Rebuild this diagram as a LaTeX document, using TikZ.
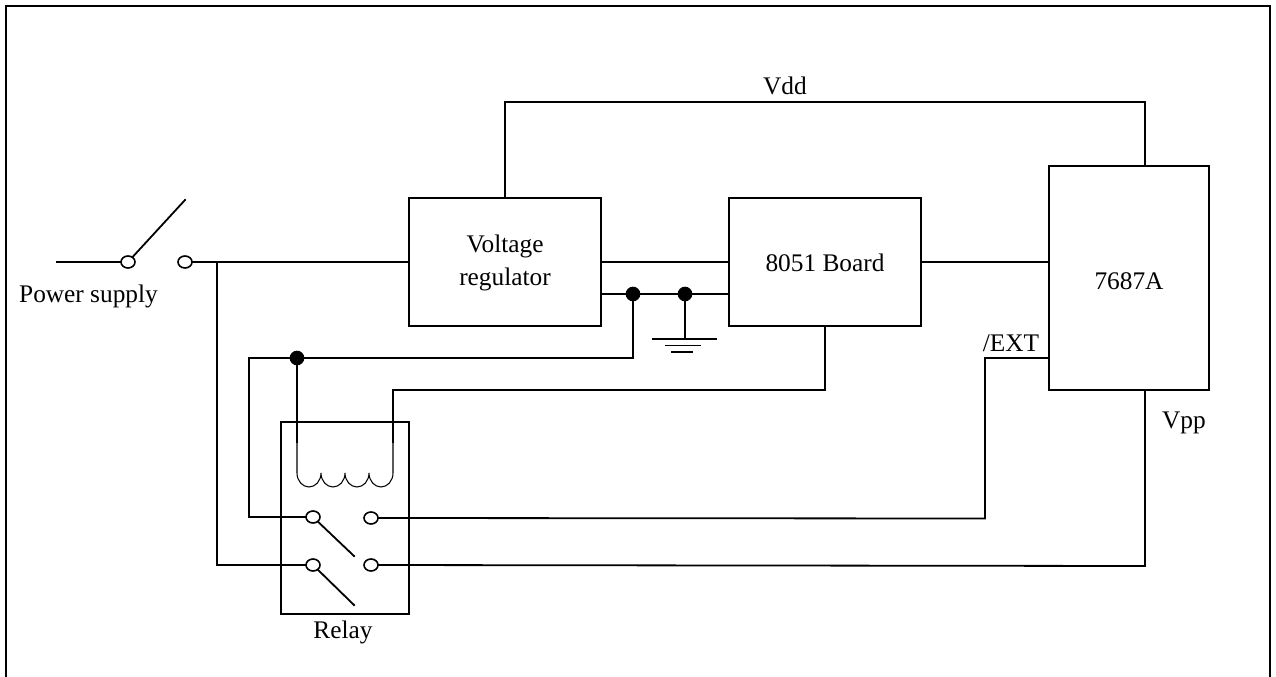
\documentclass[tikz,border=0pt]{standalone}
\usepackage{fontspec}
\usetikzlibrary{shapes.geometric}
\setmainfont{Liberation Serif}
\tikzset{
  x=0.75pt,y=-0.75pt,
  wire/.style={line width=1.35pt,line cap=rect},
  coilwire/.style={line width=0.8pt},
  blockbox/.style={draw,line width=1.35pt,minimum width=#1*0.75pt,inner sep=0pt},
  term/.style={ellipse,draw,line width=1.2pt,fill=white,inner sep=0pt,minimum width=10.5pt,minimum height=9pt},
  dotn/.style={circle,fill=black,inner sep=0pt,minimum size=11pt},
  lab/.style={inner sep=0pt,font=\fontsize{19}{22}\selectfont}
}
\begin{document}
\begin{tikzpicture}
\useasboundingbox (0,0) rectangle (1276,677);
\draw[line width=1.35pt] (6,677) -- (6,6) -- (1270,6) -- (1270,677);
% blocks
\node[blockbox=192,minimum height=96pt] (vr) at (505,262) {};
\node[blockbox=192,minimum height=96pt] (mcu) at (825,262) {};
\node[blockbox=160,minimum height=168pt] (chip) at (1129,278) {};
\node[blockbox=128,minimum height=144pt] (relay) at (345,518) {};
% free ends
\coordinate (pwr) at (57,262);
\coordinate (swtip) at (185,200);
\coordinate (vrtop) at (505,198);
\coordinate (chiptop) at (1145,166);
\coordinate (chipbot) at (1145,390);
\coordinate (gndtop) at (685,338);
\coordinate (ext) at (1049,358);
% terminals
\node[term] (sa) at (128,262) {};
\node[term] (sb) at (185,262) {};
\node[term] (ra) at (313,517) {};
\node[term] (rb) at (371,518) {};
\node[term] (rc) at (313,565) {};
\node[term] (rd) at (371,565) {};
\node[dotn] (d1) at (633,294) {};
\node[dotn] (d2) at (685,294) {};
\node[dotn] (d3) at (297,358) {};
% power switch
\draw[wire] (pwr) -- (sa);
\draw[wire] (sa) -- (swtip);
\draw[wire] (sb) -- (vr.west);
% Vdd
\draw[wire] (vrtop) -- (505,102) -- (1145,102) -- (chiptop);
% links between blocks
\draw[wire] (vr.east) -- (mcu.west);
\draw[wire] (601,294) -- (d1) -- (d2) -- (729,294);
\draw[wire] (mcu.east) -- (1049,262);
% ground
\draw[wire] (d2) -- (gndtop);
\draw[line width=1.5pt] (652,339) -- (717,339);
\draw[line width=1.2pt] (665,345.5) -- (701,345.5);
\draw[line width=1.2pt] (671,352) -- (693,352);
% relay supply
\draw[wire] (d1) -- (633,358) -- (d3);
\draw[wire] (d3) -- (249,358) -- (249,517) -- (ra);
\draw[wire] (d3) -- (297,442);
\draw[wire] (825,326) -- (825,390) -- (393,390) -- (393,442);
% coil
\draw[coilwire] (297,442) -- (297,473)
  arc[start angle=180,end angle=360,x radius=9pt,y radius=10.5pt]
  arc[start angle=180,end angle=360,x radius=9pt,y radius=10.5pt]
  arc[start angle=180,end angle=360,x radius=9pt,y radius=10.5pt]
  arc[start angle=180,end angle=360,x radius=9pt,y radius=10.5pt] -- (393,442);
% relay contacts
\draw[wire] (ra) -- (354,556);
\draw[wire] (rc) -- (354,605);
\draw[wire] (217,262) -- (217,565) -- (rc);
\draw[wire] (rb) -- (985,518.5) -- (985,358) -- (ext);
\draw[wire] (rd) -- (1145,566) -- (chipbot);
% labels
\node[lab] (t1) at (505,246) {Voltage};
\node[lab] (t2) at (505,279) {regulator};
\node[lab] (t3) at (825,263) {8051 Board};
\node[lab] (t4) at (1129,281) {7687A};
\node[lab] (l1) at (88.5,296) {Power supply};
\node[lab] (l2) at (343,632) {Relay};
\node[lab] (l3) at (785,86) {Vdd};
\node[lab] (l4) at (1011,343) {/EXT};
\node[lab] (l5) at (1184,423) {Vpp};
\end{tikzpicture}
\end{document}
